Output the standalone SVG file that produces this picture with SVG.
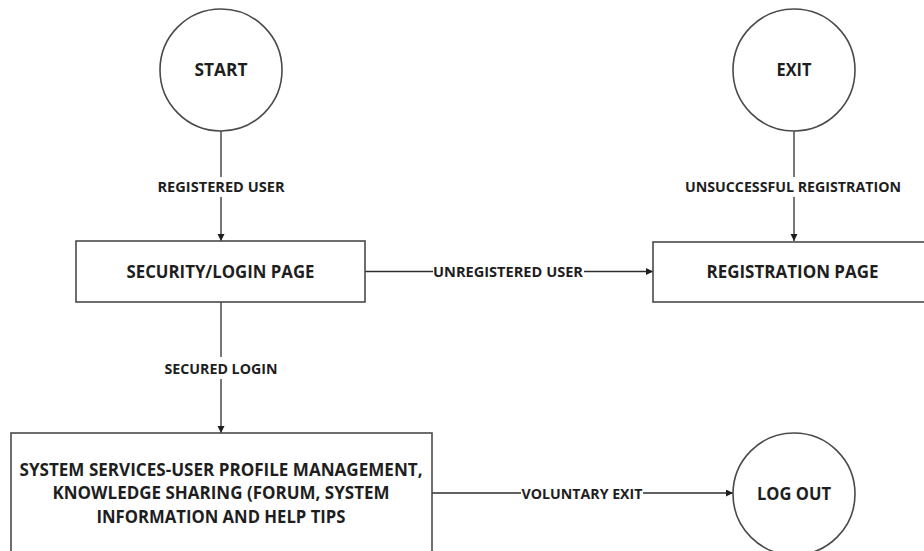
<svg xmlns="http://www.w3.org/2000/svg" width="924" height="551" viewBox="0 0 924 551">
  <style>
    .shape { fill: #ffffff; stroke: #4a4a4a; stroke-width: 1.6; }
    .edge { fill: none; stroke: #2e2e2e; stroke-width: 1.3; }
    .node-text { font-family: "Open Sans", "Liberation Sans", sans-serif; font-weight: 700; font-size: 17px; fill: #1e1e1e; text-anchor: middle; }
    .edge-text { font-family: "Open Sans", "Liberation Sans", sans-serif; font-weight: 700; font-size: 15px; fill: #1e1e1e; text-anchor: middle; }
    .label-bg { fill: #ffffff; stroke: none; }
  </style>
  <defs>
    <marker id="arrow" markerUnits="userSpaceOnUse" markerWidth="8" markerHeight="8" refX="7" refY="3.5" orient="auto">
      <path d="M0,0 L7,3.5 L0,7 z" fill="#1e1e1e"/>
    </marker>
  </defs>

  <rect x="0" y="0" width="924" height="551" fill="#ffffff"/>

  <!-- connectors -->
  <g id="connectors">
    <line class="edge" x1="221" y1="131" x2="221" y2="241" marker-end="url(#arrow)"/>
    <line class="edge" x1="794" y1="131" x2="794" y2="241" marker-end="url(#arrow)"/>
    <line class="edge" x1="365" y1="271.5" x2="653" y2="271.5" marker-end="url(#arrow)"/>
    <line class="edge" x1="221" y1="302" x2="221" y2="433" marker-end="url(#arrow)"/>
    <line class="edge" x1="432" y1="493" x2="733" y2="493" marker-end="url(#arrow)"/>

    <g id="label-registered">
      <rect class="label-bg" x="155" y="177" width="132" height="20"/>
      <text class="edge-text" x="221" y="191.5" textLength="127" lengthAdjust="spacingAndGlyphs">REGISTERED USER</text>
    </g>
    <g id="label-unsuccessful">
      <rect class="label-bg" x="683" y="177" width="222" height="20"/>
      <text class="edge-text" x="793" y="191.5" textLength="216" lengthAdjust="spacingAndGlyphs">UNSUCCESSFUL REGISTRATION</text>
    </g>
    <g id="label-unregistered">
      <rect class="label-bg" x="433" y="262" width="151" height="20"/>
      <text class="edge-text" x="508" y="277" textLength="150" lengthAdjust="spacingAndGlyphs">UNREGISTERED USER</text>
    </g>
    <g id="label-secured">
      <rect class="label-bg" x="162" y="357" width="118" height="22"/>
      <text class="edge-text" x="221" y="373.5" textLength="113" lengthAdjust="spacingAndGlyphs">SECURED LOGIN</text>
    </g>
    <g id="label-voluntary">
      <rect class="label-bg" x="521" y="484" width="122" height="20"/>
      <text class="edge-text" x="582" y="498.5" textLength="121" lengthAdjust="spacingAndGlyphs">VOLUNTARY EXIT</text>
    </g>
  </g>

  <g id="start">
    <circle class="shape" cx="221" cy="70" r="61"/>
    <text class="node-text" x="221" y="76" textLength="53" lengthAdjust="spacingAndGlyphs">START</text>
  </g>

  <g id="exit">
    <circle class="shape" cx="794" cy="70" r="61"/>
    <text class="node-text" x="794" y="76" textLength="35" lengthAdjust="spacingAndGlyphs">EXIT</text>
  </g>

  <g id="login-page">
    <rect class="shape" x="76" y="241" width="289" height="61"/>
    <text class="node-text" x="220.5" y="277.5" textLength="188" lengthAdjust="spacingAndGlyphs">SECURITY/LOGIN PAGE</text>
  </g>

  <g id="registration-page">
    <rect class="shape" x="653" y="242" width="280" height="60"/>
    <text class="node-text" x="792.5" y="277.5" textLength="172" lengthAdjust="spacingAndGlyphs">REGISTRATION PAGE</text>
  </g>

  <g id="system-services">
    <rect class="shape" x="11" y="433" width="421" height="130"/>
    <text class="node-text" x="221" y="476" textLength="403" lengthAdjust="spacingAndGlyphs">SYSTEM SERVICES-USER PROFILE MANAGEMENT,</text>
    <text class="node-text" x="221" y="499" textLength="337" lengthAdjust="spacingAndGlyphs">KNOWLEDGE SHARING (FORUM, SYSTEM</text>
    <text class="node-text" x="221" y="523" textLength="249" lengthAdjust="spacingAndGlyphs">INFORMATION AND HELP TIPS</text>
  </g>

  <g id="log-out">
    <circle class="shape" cx="794" cy="494" r="61"/>
    <text class="node-text" x="794" y="499.5" textLength="74" lengthAdjust="spacingAndGlyphs">LOG OUT</text>
  </g>
</svg>
